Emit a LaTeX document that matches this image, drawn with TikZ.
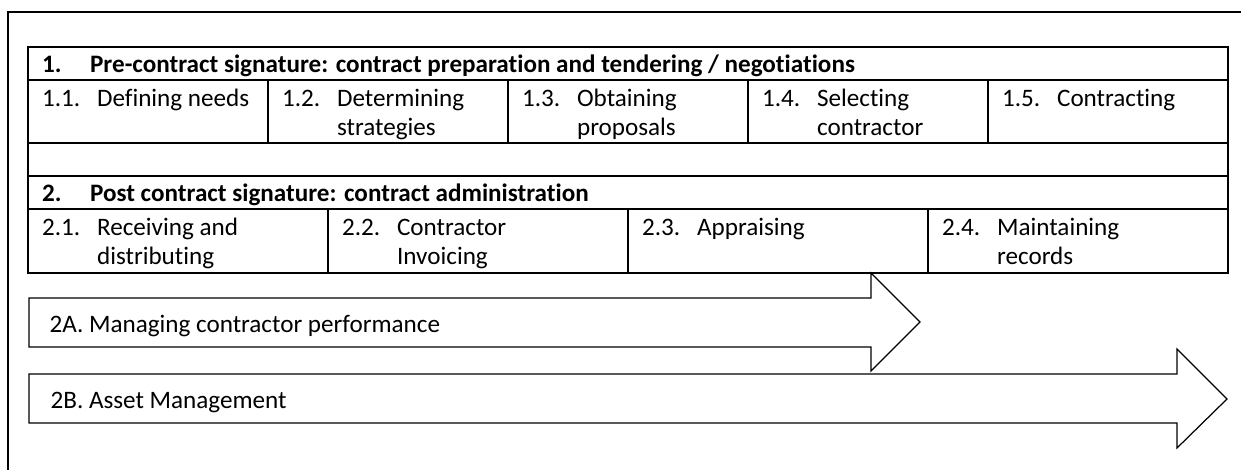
\documentclass[tikz,border=0pt]{standalone}
\usepackage{fontspec}
\setmainfont{Carlito}[Ligatures=NoCommon]
\newcommand{\cellitem}[2]{\begin{tabular}[t]{@{}p{1.1cm}@{}l@{}}#1 & #2\end{tabular}}
\newcommand{\headitem}[2]{\textbf{\begin{tabular}[t]{@{}p{0.96cm}@{}l@{}}#1 & #2\end{tabular}}}
\begin{document}
\begin{tikzpicture}[line width=0.7pt]
\tikzset{lbl/.style={inner sep=0pt, anchor=base west, font=\fontsize{14.3}{17}\selectfont}}
\useasboundingbox (0,0) rectangle (24.82,9.4);
% outer frame
\draw (0.16,0) -- (0.16,9.16) -- (24.82,9.16);

% table grid
\draw (0.56,3.94) rectangle (24.56,8.46);
\foreach \y in {7.80,6.54,5.88,5.22}
  \draw (0.56,\y) -- (24.56,\y);
\foreach \x in {5.36,10.16,14.96,19.76}
  \draw (\x,7.80) -- (\x,6.54);
\foreach \x in {6.56,12.56,18.56}
  \draw (\x,5.22) -- (\x,3.94);

% stage 1
\node[lbl] (h1) at (0.83,7.95) {\headitem{1.}{Pre-contract signature: contract preparation and tendering / negotiations}};
\node[lbl] (c11) at (0.83,7.28) {\cellitem{1.1.}{Defining needs}};
\node[lbl] (c12) at (5.63,7.28) {\cellitem{1.2.}{Determining\\ & strategies}};
\node[lbl] (c13) at (10.43,7.28) {\cellitem{1.3.}{Obtaining\\ & proposals}};
\node[lbl] (c14) at (15.23,7.28) {\cellitem{1.4.}{Selecting\\ & contractor}};
\node[lbl] (c15) at (20.03,7.28) {\cellitem{1.5.}{Contracting}};

% stage 2
\node[lbl] (h2) at (0.83,5.37) {\headitem{2.}{Post contract signature: contract administration}};
\node[lbl] (c21) at (0.83,4.70) {\cellitem{2.1.}{Receiving and\\ & distributing}};
\node[lbl] (c22) at (6.83,4.70) {\cellitem{2.2.}{Contractor\\ & Invoicing}};
\node[lbl] (c23) at (12.83,4.70) {\cellitem{2.3.}{Appraising}};
\node[lbl] (c24) at (18.83,4.70) {\cellitem{2.4.}{Maintaining\\ & records}};

% arrows
\draw (0.58,3.44) -- (17.42,3.44) -- (17.42,3.94) -- (18.40,2.96)
  -- (17.42,1.98) -- (17.42,2.46) -- (0.58,2.46) -- cycle;
\node[lbl] (a2A) at (0.98,2.75) {2A. Managing contractor performance};
\draw (0.58,1.92) -- (23.54,1.92) -- (23.54,2.42) -- (24.54,1.42)
  -- (23.54,0.44) -- (23.54,0.94) -- (0.58,0.94) -- cycle;
\node[lbl] (a2B) at (1.00,1.24) {2B. Asset Management};
\end{tikzpicture}
\end{document}
